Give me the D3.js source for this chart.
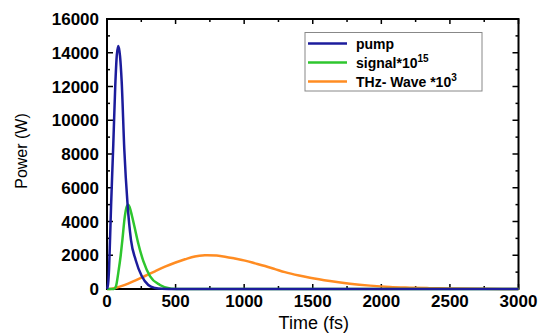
<!DOCTYPE html>
<html>
<head>
<meta charset="utf-8">
<script src="https://cdn.jsdelivr.net/npm/d3@7"></script>
<style>
  body { margin: 0; background: #fff; }
  svg text { font-family: Arial, "Liberation Sans", sans-serif; }
</style>
</head>
<body>
<svg id="chart" width="542" height="335"></svg>
<script>
// time (fs) / power (W)
var pumpT = [0, 8, 15, 22, 30, 46, 60, 72, 83, 95, 107, 126, 150, 175, 209, 253, 301, 350, 400, 500, 3000];
var pumpP = [0, 300, 1200, 2900, 5000, 8600, 12000, 13900, 14400, 13800, 12300, 8300, 5000, 2900, 1720, 770, 240, 60, 10, 0, 0];

var signalT = [0, 50, 65, 83, 100, 112, 130, 145, 155, 165, 180, 200, 228, 265, 313, 386, 470, 550, 3000];
var signalP = [0, 0, 150, 1000, 2000, 2900, 4300, 4900, 5000, 4850, 4400, 3700, 2700, 1650, 770, 240, 20, 0, 0];

var thzT = [0, 20, 60, 131, 200, 277, 350, 423, 500, 569, 640, 714, 730, 800, 860, 930, 1006, 1080, 1152, 1225, 1297, 1400, 1480, 1625, 1771, 1917, 2063, 2208, 2350, 2500, 2750, 3000];
var thzP = [0, 0, 60, 240, 480, 770, 1050, 1320, 1570, 1760, 1930, 2000, 2005, 1980, 1915, 1810, 1680, 1520, 1360, 1180, 1000, 800, 670, 475, 315, 200, 120, 80, 50, 30, 10, 0];

var xTicks = [0, 500, 1000, 1500, 2000, 2500, 3000];
var yTicks = [0, 2000, 4000, 6000, 8000, 10000, 12000, 14000, 16000];

var seriesNames = ["pump", "signal*10", "THz- Wave *10"];
var seriesSup = ["", "15", "3"];
var seriesColors = ["#1c1c9c", "#2ec62e", "#ff8c22"];

var svg = d3.select("#chart");
var pL = 107, pR = 518.5, pT = 19, pB = 289;

var x = d3.scaleLinear().domain([0, 3000]).range([pL, pR]);
var y = d3.scaleLinear().domain([0, 16000]).range([pB, pT]);

var xMinor = d3.range(0, 3001, 250);
var yMinor = d3.range(0, 16001, 1000);

var series = [
  { t: pumpT, p: pumpP },
  { t: signalT, p: signalP },
  { t: thzT, p: thzP }
];

var line = d3.line()
  .x(function(d){ return x(d[0]); })
  .y(function(d){ return y(d[1]); })
  .curve(d3.curveMonotoneX);

// frame first, the curves run over the bottom axis like in the picture
var axes = svg.append("g").attr("stroke", "#000").attr("fill", "none");
axes.append("rect")
  .attr("x", pL).attr("y", pT)
  .attr("width", pR - pL).attr("height", pB - pT)
  .attr("stroke-width", 2);

// inward ticks on all four sides
xMinor.forEach(function(v){
  var len = (v % 500 === 0) ? 5 : 3;
  axes.append("line").attr("x1", x(v)).attr("x2", x(v)).attr("y1", pB).attr("y2", pB - len).attr("stroke-width", 1.5);
  axes.append("line").attr("x1", x(v)).attr("x2", x(v)).attr("y1", pT).attr("y2", pT + len).attr("stroke-width", 1.5);
});
yMinor.forEach(function(v){
  var len = (v % 2000 === 0) ? 6 : 3;
  axes.append("line").attr("y1", y(v)).attr("y2", y(v)).attr("x1", pL).attr("x2", pL + len).attr("stroke-width", 1.5);
  axes.append("line").attr("y1", y(v)).attr("y2", y(v)).attr("x1", pR).attr("x2", pR - len).attr("stroke-width", 1.5);
});

var plot = svg.append("g");
// draw later series first so pump sits on top
[2, 1, 0].forEach(function(i){
  var pts = series[i].t.map(function(t, k){ return [t, series[i].p[k]]; });
  plot.append("path")
    .attr("d", line(pts))
    .attr("fill", "none")
    .attr("stroke", seriesColors[i])
    .attr("stroke-width", 2.5);
});

// tick labels
svg.append("g").selectAll("text").data(xTicks).enter().append("text")
  .attr("x", function(d){ return x(d); })
  .attr("y", 307)
  .attr("text-anchor", "middle")
  .attr("font-size", 17).attr("font-weight", "bold")
  .text(function(d){ return d; });

svg.append("g").selectAll("text").data(yTicks).enter().append("text")
  .attr("x", 99)
  .attr("y", function(d){ return y(d) + 6; })
  .attr("text-anchor", "end")
  .attr("font-size", 17).attr("font-weight", "bold")
  .text(function(d){ return d; });

// axis titles
svg.append("text")
  .attr("x", x(1500) + 1).attr("y", 329)
  .attr("text-anchor", "middle").attr("font-size", 18)
  .text("Time (fs)");

svg.append("text")
  .attr("transform", "translate(27,151) rotate(-90)")
  .attr("text-anchor", "middle").attr("font-size", 16)
  .text("Power (W)");

// legend
var lg = svg.append("g");
lg.append("rect").attr("x", 305).attr("y", 32.5).attr("width", 177).attr("height", 58.5)
  .attr("fill", "#fff").attr("stroke", "#888").attr("stroke-width", 1);
var rowY = [43.5, 62.5, 81.5];
seriesNames.forEach(function(n, i){
  lg.append("line").attr("x1", 308).attr("x2", 347).attr("y1", rowY[i]).attr("y2", rowY[i])
    .attr("stroke", seriesColors[i]).attr("stroke-width", 2.4);
  var t = lg.append("text").attr("x", 356).attr("y", rowY[i] + 5)
    .attr("font-size", 14).attr("font-weight", "bold").text(n);
  if (seriesSup[i]) {
    t.append("tspan").attr("dy", -6).attr("font-size", 10).text(seriesSup[i]);
  }
});
</script>
</body>
</html>
